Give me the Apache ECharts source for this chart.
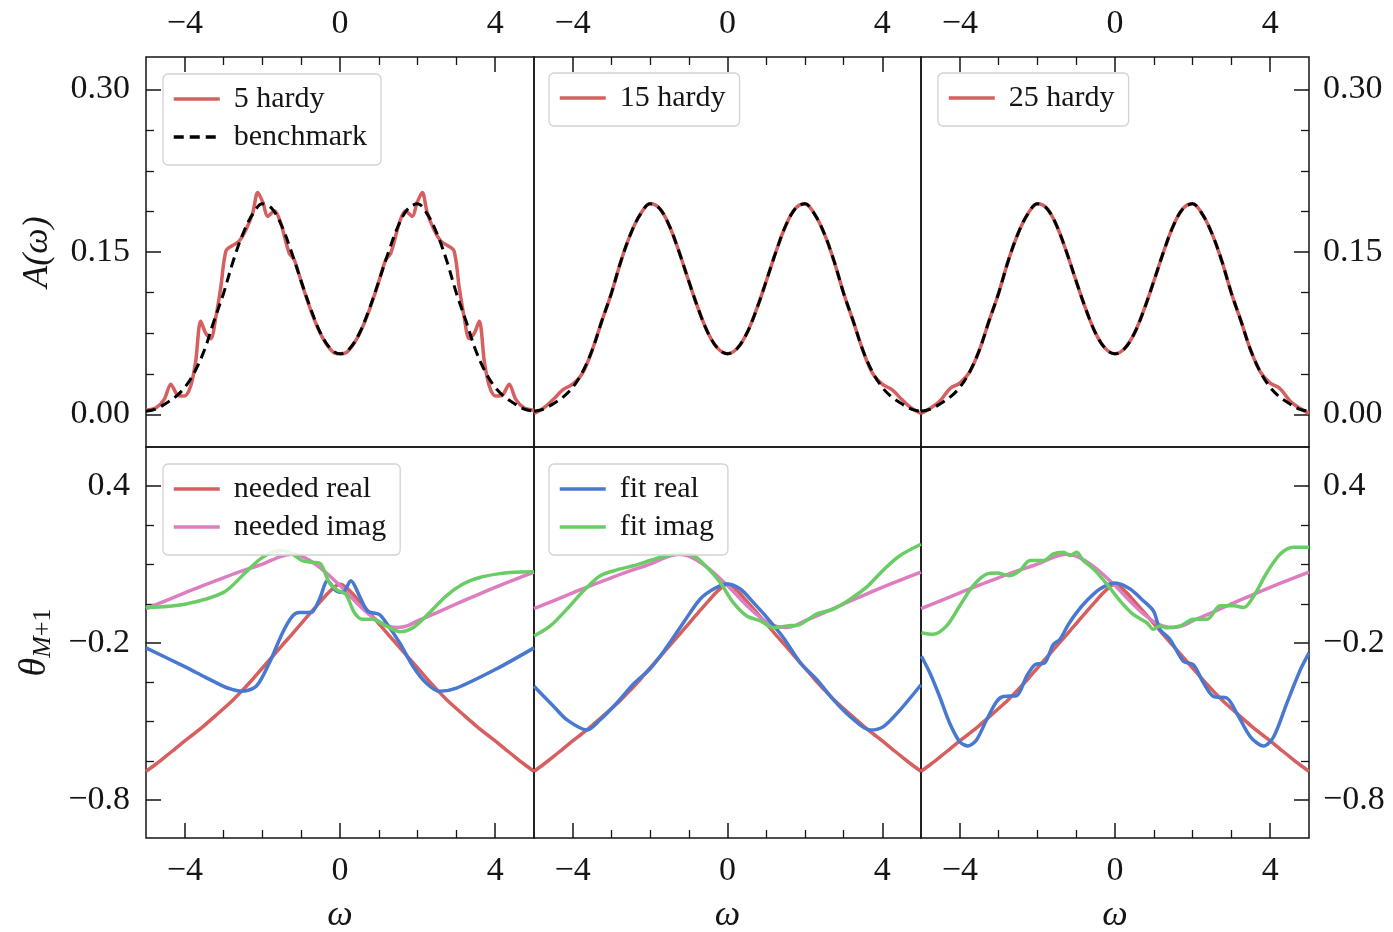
<!DOCTYPE html>
<html><head><meta charset="utf-8">
<script src="https://cdn.jsdelivr.net/npm/echarts@6/dist/echarts.min.js"></script>
<style>html,body{margin:0;padding:0;background:#fff}#c{width:1393px;height:932px}</style>
</head><body><div id="c"></div>
<script>
// ---------------- data ----------------
const omega = [-5,-4.75,-4.5,-4.25,-4,-3.75,-3.5,-3.25,-3,-2.75,-2.5,-2.25,-2,-1.75,-1.5,-1.25,-1,-0.75,-0.5,-0.25,0,0.25,0.5,0.75,1,1.25,1.5,1.75,2,2.25,2.5,2.75,3,3.25,3.5,3.75,4,4.25,4.5,4.75,5];
const benchmark = [0.003,0.005,0.010,0.016,0.025,0.039,0.059,0.086,0.112,0.142,0.167,0.185,0.1945,0.190,0.174,0.150,0.123,0.097,0.075,0.061,0.056,0.061,0.075,0.097,0.123,0.150,0.174,0.190,0.1945,0.185,0.167,0.142,0.112,0.086,0.059,0.039,0.025,0.016,0.010,0.005,0.003];
const hardy15 = [0.001,0.006,0.014,0.023,0.028,0.038,0.059,0.086,0.112,0.142,0.167,0.185,0.1945,0.190,0.174,0.150,0.123,0.097,0.075,0.061,0.056,0.061,0.075,0.097,0.123,0.150,0.174,0.190,0.1945,0.185,0.167,0.142,0.112,0.086,0.059,0.038,0.028,0.023,0.014,0.006,0.001];
const hardy25 = [0.001,0.006,0.013,0.024,0.029,0.039,0.059,0.086,0.112,0.142,0.167,0.185,0.1945,0.190,0.174,0.150,0.123,0.097,0.075,0.061,0.056,0.061,0.075,0.097,0.123,0.150,0.174,0.190,0.1945,0.185,0.167,0.142,0.112,0.086,0.059,0.039,0.029,0.024,0.013,0.006,0.001];
const hardy5X = [-5.0,-4.75,-4.53,-4.36,-4.19,-4.01,-3.85,-3.72,-3.59,-3.46,-3.33,-3.2,-3.07,-2.94,-2.77,-2.6,-2.43,-2.25,-2.12,-1.99,-1.86,-1.69,-1.53,-1.31,-1.18,-0.96,-0.70,-0.45,-0.19,0,0.19,0.45,0.70,0.96,1.18,1.31,1.53,1.69,1.86,1.99,2.12,2.25,2.43,2.6,2.77,2.94,3.07,3.2,3.33,3.46,3.59,3.72,3.85,4.01,4.19,4.36,4.53,4.75,5.0];
const hardy5 = [0.004,0.006,0.014,0.028,0.018,0.017,0.026,0.049,0.086,0.075,0.070,0.090,0.118,0.151,0.156,0.160,0.170,0.186,0.205,0.196,0.183,0.188,0.177,0.149,0.143,0.118,0.091,0.071,0.058,0.056,0.058,0.071,0.091,0.118,0.143,0.149,0.177,0.188,0.183,0.196,0.205,0.186,0.170,0.160,0.156,0.151,0.118,0.090,0.070,0.075,0.086,0.049,0.026,0.017,0.018,0.028,0.014,0.006,0.004];

const neededReal = [-0.69,-0.663,-0.634,-0.604,-0.574,-0.545,-0.515,-0.483,-0.45,-0.416,-0.378,-0.338,-0.295,-0.253,-0.21,-0.168,-0.125,-0.082,-0.04,0.0,0.025,0.0,-0.04,-0.082,-0.125,-0.168,-0.21,-0.253,-0.295,-0.338,-0.378,-0.416,-0.45,-0.483,-0.515,-0.545,-0.574,-0.604,-0.634,-0.663,-0.69];
const neededImagX = [-5,-4.5,-4,-3.5,-3,-2.5,-2,-1.75,-1.5,-1.25,-1,-0.75,-0.5,-0.25,0,0.25,0.5,0.75,1,1.25,1.5,1.75,2,2.5,3,3.5,4,4.5,5];
const neededImag = [-0.068,-0.038,-0.008,0.022,0.05,0.077,0.102,0.118,0.133,0.14,0.133,0.113,0.087,0.055,0.02,-0.018,-0.056,-0.09,-0.118,-0.135,-0.14,-0.133,-0.115,-0.083,-0.05,-0.018,0.013,0.043,0.072];

const fitReal5X = [-5,-4,-3.5,-3,-2.8,-2.55,-2.16,-1.82,-1.48,-1.22,-1.05,-0.75,-0.53,-0.32,-0.1,0.07,0.28,0.5,0.71,1.01,1.19,1.54,1.88,2.22,2.57,3.0,4,5];
const fitReal5 = [-0.218,-0.29,-0.328,-0.365,-0.376,-0.384,-0.365,-0.275,-0.16,-0.096,-0.083,-0.083,-0.032,0.039,0.0,-0.006,0.039,-0.019,-0.077,-0.09,-0.122,-0.199,-0.288,-0.352,-0.384,-0.372,-0.301,-0.218];
const fitImag5X = [-5,-4,-3,-2.43,-2,-1.57,-1.31,-0.97,-0.71,-0.5,-0.28,-0.06,0.15,0.37,0.58,0.84,1.19,1.54,1.88,2.31,2.74,3.17,3.6,4.03,4.46,5];
const fitImag5 = [-0.064,-0.051,-0.006,0.071,0.128,0.154,0.148,0.115,0.109,0.103,0.032,0.002,-0.013,-0.083,-0.109,-0.109,-0.134,-0.156,-0.141,-0.083,-0.019,0.026,0.051,0.064,0.071,0.073];

const fitReal15X = [-5,-4.49,-4.15,-3.63,-3.29,-2.86,-2.43,-2.0,-1.57,-1.14,-0.71,-0.36,-0.02,0.33,0.67,1.02,1.45,1.88,2.31,2.74,3.17,3.69,4.03,4.46,5];
const fitReal15 = [-0.365,-0.442,-0.493,-0.532,-0.493,-0.429,-0.356,-0.298,-0.215,-0.122,-0.032,0.007,0.026,0.007,-0.045,-0.102,-0.18,-0.275,-0.34,-0.417,-0.481,-0.532,-0.519,-0.455,-0.359];
const fitImag15X = [-5,-4.58,-4.15,-3.72,-3.29,-2.86,-2.43,-2.0,-1.57,-1.22,-0.88,-0.53,-0.19,0.15,0.5,0.85,1.19,1.54,1.88,2.31,2.74,3.17,3.6,4.03,4.46,5];
const fitImag15 = [-0.173,-0.134,-0.07,0.0,0.058,0.08,0.096,0.116,0.135,0.141,0.135,0.09,0.032,-0.045,-0.096,-0.115,-0.141,-0.134,-0.128,-0.088,-0.07,-0.032,0.015,0.08,0.135,0.178];

const fitReal25X = [-4.99,-4.77,-4.52,-4.26,-4.0,-3.79,-3.57,-3.31,-3.05,-2.88,-2.54,-2.28,-2.06,-1.81,-1.59,-1.42,-1.2,-0.99,-0.73,-0.39,0,0.39,0.73,0.99,1.16,1.42,1.76,2.02,2.28,2.54,2.88,3.14,3.49,3.83,4.09,4.43,4.78,5];
const fitReal25 = [-0.25,-0.314,-0.404,-0.506,-0.577,-0.593,-0.57,-0.493,-0.423,-0.404,-0.401,-0.327,-0.282,-0.275,-0.205,-0.186,-0.128,-0.083,-0.038,0.007,0.03,0.007,-0.038,-0.077,-0.147,-0.186,-0.269,-0.282,-0.352,-0.404,-0.41,-0.468,-0.558,-0.593,-0.558,-0.429,-0.301,-0.237];
const fitImag25X = [-4.99,-4.69,-4.34,-4.0,-3.66,-3.31,-3.05,-2.71,-2.45,-2.19,-1.84,-1.59,-1.33,-1.16,-0.99,-0.82,-0.56,-0.21,0.13,0.47,0.82,0.99,1.16,1.34,1.68,2.02,2.37,2.71,3.06,3.32,3.58,3.92,4.26,4.6,5];
const fitImag25 = [-0.16,-0.166,-0.134,-0.057,0.019,0.064,0.068,0.058,0.077,0.116,0.116,0.141,0.148,0.135,0.148,0.116,0.084,0.026,-0.038,-0.09,-0.122,-0.147,-0.134,-0.141,-0.134,-0.109,-0.109,-0.057,-0.057,-0.064,-0.019,0.071,0.141,0.167,0.167];

const xMajor = [-4, 0, 4];
const xMinor = [-3, -2, -1, 1, 2, 3];
const aMajor = [0, 0.15, 0.30];
const aMinor = [0.0375, 0.075, 0.1125, 0.1875, 0.225, 0.2625];
const tMajor = [0.4, -0.2, -0.8];
const tMinor = [0.25, 0.1, -0.05, -0.35, -0.5, -0.65];

// ---------------- chart ----------------
const FONT = 'Liberation Serif';
const INK = '#151515';
const C = {red: '#d65f5f', blue: '#4878d0', green: '#6acc64', pink: '#dc7ec0'};
const zip = (xs, ys) => xs.map((x, i) => [x, ys[i]]);
const fmt = d => v => (v < 0 ? '\u2212' : '') + Math.abs(v).toFixed(d);

const L = [146, 534, 921], W = [388, 387, 388];
const T = [57, 447], H = [390, 391];
const grids = [], xAxes = [], yAxes = [];
for (let r = 0; r < 2; r++) {
  for (let c = 0; c < 3; c++) {
    const gi = r * 3 + c;
    grids.push({left: L[c], top: T[r], width: W[c], height: H[r], show: true,
      outerBoundsMode: 'none', containLabel: false,
      borderColor: INK, borderWidth: 1.5, backgroundColor: 'transparent'});
    const xpos = r === 0 ? 'top' : 'bottom';
    xAxes.push({gridIndex: gi, type: 'value', min: -5, max: 5, position: xpos,
      axisLine: {show: false, onZero: false}, splitLine: {show: false},
      axisTick: {show: true, inside: true, length: 15, customValues: xMajor, lineStyle: {color: INK, width: 1.5}},
      axisLabel: {show: true, customValues: xMajor, formatter: fmt(0), margin: r === 0 ? 16 : 16,
        fontFamily: FONT, fontSize: 34, color: INK},
      name: r === 1 ? 'ω' : '', nameLocation: 'middle', nameGap: 60,
      nameTextStyle: {fontFamily: FONT, fontStyle: 'italic', fontSize: 36, color: INK}});
    xAxes.push({gridIndex: gi, type: 'value', min: -5, max: 5, position: xpos,
      axisLine: {show: false, onZero: false}, splitLine: {show: false}, axisLabel: {show: false},
      axisTick: {show: true, inside: true, length: 8, customValues: xMinor, lineStyle: {color: INK, width: 1.3}}});
    const ymin = r === 0 ? -0.03 : -0.945, ymax = r === 0 ? 0.33 : 0.55;
    const major = r === 0 ? aMajor : tMajor, minor = r === 0 ? aMinor : tMinor;
    const shown = c !== 1;
    const ypos = c === 2 ? 'right' : 'left';
    let name = '', nameStyle = {};
    if (c === 0 && r === 0) {
      name = 'A(ω)';
      nameStyle = {fontFamily: FONT, fontStyle: 'italic', fontSize: 36, color: INK};
    } else if (c === 0 && r === 1) {
      name = '{t|θ}{m|M}{p|+1}';
      nameStyle = {rich: {
        t: {fontFamily: FONT, fontStyle: 'italic', fontSize: 38, color: INK},
        m: {fontFamily: FONT, fontStyle: 'italic', fontSize: 26, color: INK, padding: [16, 0, 0, 0]},
        p: {fontFamily: FONT, fontSize: 26, color: INK, padding: [16, 0, 0, 0]}}};
    }
    yAxes.push({gridIndex: gi, type: 'value', min: ymin, max: ymax, position: ypos,
      axisLine: {show: false, onZero: false}, splitLine: {show: false},
      axisTick: {show: shown, inside: true, length: 15, customValues: major, lineStyle: {color: INK, width: 1.5}},
      axisLabel: {show: shown, customValues: major, formatter: fmt(r === 0 ? 2 : 1), margin: c === 2 ? 14 : 16,
        padding: [7, 0, 0, 0], fontFamily: FONT, fontSize: 34, color: INK},
      name: name, nameLocation: 'middle', nameGap: 90, nameRotate: 90, nameTextStyle: nameStyle});
    yAxes.push({gridIndex: gi, type: 'value', min: ymin, max: ymax, position: ypos,
      axisLine: {show: false, onZero: false}, splitLine: {show: false}, axisLabel: {show: false},
      axisTick: {show: shown, inside: true, length: 8, customValues: minor, lineStyle: {color: INK, width: 1.3}}});
  }
}

const series = [];
function line(name, gi, data, color, extra) {
  series.push(Object.assign({name: name, type: 'line', xAxisIndex: gi * 2, yAxisIndex: gi * 2,
    data: data, showSymbol: false, symbol: 'none', smooth: 0.35, clip: true, animation: false,
    lineStyle: {color: color, width: 3.5}, itemStyle: {color: color}, z: 3}, extra || {}));
}
const dash = {lineStyle: {color: '#000', width: 3, type: [10, 6]}, itemStyle: {color: '#000'}, z: 4};
line('5 hardy', 0, zip(hardy5X, hardy5), C.red, {smooth: 0.3});
line('benchmark', 0, zip(omega, benchmark), '#000', dash);
line('15 hardy', 1, zip(omega, hardy15), C.red);
line('benchmark', 1, zip(omega, benchmark), '#000', dash);
line('25 hardy', 2, zip(omega, hardy25), C.red);
line('benchmark', 2, zip(omega, benchmark), '#000', dash);

const fits = [[fitReal5X, fitReal5, fitImag5X, fitImag5], [fitReal15X, fitReal15, fitImag15X, fitImag15], [fitReal25X, fitReal25, fitImag25X, fitImag25]];
for (let c = 0; c < 3; c++) {
  const gi = 3 + c;
  line('needed real', gi, zip(omega, neededReal), C.red);
  line('needed imag', gi, zip(neededImagX, neededImag), C.pink);
  line('fit real', gi, zip(fits[c][0], fits[c][1]), C.blue, {smooth: 0.3});
  line('fit imag', gi, zip(fits[c][2], fits[c][3]), C.green, {smooth: 0.3});
}

const legendBase = {orient: 'vertical', itemWidth: 46, itemHeight: 14, itemGap: 8, selectedMode: false,
  padding: [10, 14, 13, 9], borderColor: '#d2d2d2', borderWidth: 1.3, borderRadius: 5,
  backgroundColor: 'rgba(255,255,255,0.85)',
  itemStyle: {opacity: 0},
  lineStyle: {width: 3.5},
  textStyle: {fontFamily: FONT, fontSize: 30, color: INK, lineHeight: 30, padding: [0, 0, 0, 9]}};
const legends = [
  Object.assign({}, legendBase, {data: ['5 hardy', 'benchmark'], left: 163, top: 74}),
  Object.assign({}, legendBase, {data: ['15 hardy'], left: 549, top: 73}),
  Object.assign({}, legendBase, {data: ['25 hardy'], left: 938, top: 73}),
  Object.assign({}, legendBase, {data: ['needed real', 'needed imag'], left: 163, top: 464}),
  Object.assign({}, legendBase, {data: ['fit real', 'fit imag'], left: 549, top: 464})
];

const chart = echarts.init(document.getElementById('c'), null, {renderer: 'canvas'});
chart.setOption({backgroundColor: '#fff', animation: false, grid: grids, xAxis: xAxes, yAxis: yAxes, legend: legends, series: series});
</script></body></html>
